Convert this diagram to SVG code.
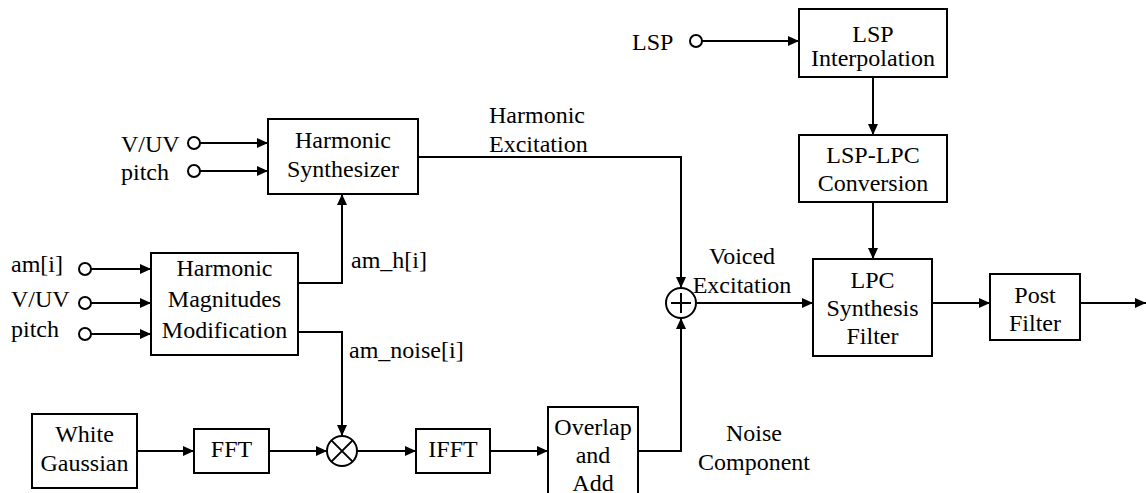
<svg xmlns="http://www.w3.org/2000/svg" width="1146" height="493" viewBox="0 0 1146 493">
<defs>
<marker id="arr" markerUnits="userSpaceOnUse" markerWidth="12" markerHeight="10" refX="11" refY="5" orient="auto">
<path d="M0,0 L11,5 L0,10 Z" fill="#000"/>
</marker>
</defs>
<rect width="1146" height="493" fill="#fff"/>
<g id="connectors" fill="none" stroke="#000" stroke-width="2" marker-end="url(#arr)">
<path d="M200,143 H268"/>
<path d="M200,171 H268"/>
<path d="M91,269 H151"/>
<path d="M91,303 H151"/>
<path d="M91,334 H151"/>
<path d="M298,283 H342 V194"/>
<path d="M298,332 H342 V436"/>
<path d="M137,451 H194"/>
<path d="M269,451 H327"/>
<path d="M357,451 H416"/>
<path d="M490,451 H548"/>
<path d="M638,451 H681 V318"/>
<path d="M418,157 H681 V288"/>
<path d="M696,303 H813"/>
<path d="M932,303 H990"/>
<path d="M1080,303 H1146"/>
<path d="M702,41 H799"/>
<path d="M873,77 V135"/>
<path d="M873,202 V259"/>
</g>
<g id="inputs">
<g fill="#fff" stroke="#000" stroke-width="2">
<circle cx="194" cy="143" r="6"/><circle cx="194" cy="171" r="6"/>
<circle cx="85" cy="269" r="6"/><circle cx="85" cy="303" r="6"/><circle cx="85" cy="334" r="6"/>
<circle cx="696" cy="41" r="6"/>
</g>
<text font-family="Liberation Serif" font-size="24" x="121" y="152">V/UV</text>
<text font-family="Liberation Serif" font-size="24" x="121" y="180">pitch</text>
<text font-family="Liberation Serif" font-size="24" x="11" y="272">am[i]</text>
<text font-family="Liberation Serif" font-size="24" x="11" y="307">V/UV</text>
<text font-family="Liberation Serif" font-size="24" x="11" y="337">pitch</text>
<text font-family="Liberation Serif" font-size="24" x="632" y="50">LSP</text>
</g>
<g id="harmonic-synth"><rect x="268" y="119" width="150" height="75" fill="#fff" stroke="#000" stroke-width="2"/>
<text font-family="Liberation Serif" font-size="24" text-anchor="middle" x="343" y="148">Harmonic</text><text font-family="Liberation Serif" font-size="24" text-anchor="middle" x="343" y="177">Synthesizer</text></g>
<g id="hmm"><rect x="151" y="253" width="147" height="102" fill="#fff" stroke="#000" stroke-width="2"/>
<text font-family="Liberation Serif" font-size="24" text-anchor="middle" x="224.5" y="276">Harmonic</text><text font-family="Liberation Serif" font-size="24" text-anchor="middle" x="224.5" y="307">Magnitudes</text><text font-family="Liberation Serif" font-size="24" text-anchor="middle" x="224.5" y="338">Modification</text></g>
<g id="white-gaussian"><rect x="32" y="414" width="105" height="74" fill="#fff" stroke="#000" stroke-width="2"/>
<text font-family="Liberation Serif" font-size="24" text-anchor="middle" x="84.5" y="442">White</text><text font-family="Liberation Serif" font-size="24" text-anchor="middle" x="84.5" y="471">Gaussian</text></g>
<g id="fft"><rect x="194" y="429" width="75" height="44" fill="#fff" stroke="#000" stroke-width="2"/>
<text font-family="Liberation Serif" font-size="24" text-anchor="middle" x="231.5" y="457">FFT</text></g>
<g id="multiplier" fill="#fff" stroke="#000" stroke-width="2"><circle cx="342" cy="451" r="15"/>
<path d="M331.4,440.4 L352.6,461.6 M352.6,440.4 L331.4,461.6"/></g>
<g id="ifft"><rect x="416" y="429" width="74" height="44" fill="#fff" stroke="#000" stroke-width="2"/>
<text font-family="Liberation Serif" font-size="24" text-anchor="middle" x="453" y="457">IFFT</text></g>
<g id="overlap-add"><rect x="548" y="407" width="90" height="100" fill="#fff" stroke="#000" stroke-width="2"/>
<text font-family="Liberation Serif" font-size="24" text-anchor="middle" x="593" y="435">Overlap</text><text font-family="Liberation Serif" font-size="24" text-anchor="middle" x="593" y="463">and</text><text font-family="Liberation Serif" font-size="24" text-anchor="middle" x="593" y="491">Add</text></g>
<g id="adder" fill="#fff" stroke="#000" stroke-width="2"><circle cx="681" cy="303" r="15"/>
<path d="M671,303 H691 M681,293 V313"/></g>
<g id="lsp-interp"><rect x="799" y="9" width="148" height="68" fill="#fff" stroke="#000" stroke-width="2"/>
<text font-family="Liberation Serif" font-size="24" text-anchor="middle" x="873" y="42">LSP</text><text font-family="Liberation Serif" font-size="24" text-anchor="middle" x="873" y="66">Interpolation</text></g>
<g id="lsp-lpc"><rect x="799" y="135" width="148" height="67" fill="#fff" stroke="#000" stroke-width="2"/>
<text font-family="Liberation Serif" font-size="24" text-anchor="middle" x="873" y="163">LSP-LPC</text><text font-family="Liberation Serif" font-size="24" text-anchor="middle" x="873" y="191">Conversion</text></g>
<g id="lpc-synth"><rect x="813" y="259" width="119" height="97" fill="#fff" stroke="#000" stroke-width="2"/>
<text font-family="Liberation Serif" font-size="24" text-anchor="middle" x="872.5" y="288">LPC</text><text font-family="Liberation Serif" font-size="24" text-anchor="middle" x="872.5" y="316">Synthesis</text><text font-family="Liberation Serif" font-size="24" text-anchor="middle" x="872.5" y="344">Filter</text></g>
<g id="post-filter"><rect x="990" y="274" width="90" height="66" fill="#fff" stroke="#000" stroke-width="2"/>
<text font-family="Liberation Serif" font-size="24" text-anchor="middle" x="1035" y="303">Post</text><text font-family="Liberation Serif" font-size="24" text-anchor="middle" x="1035" y="331">Filter</text></g>
<g id="labels">
<text font-family="Liberation Serif" font-size="24" x="351" y="268">am_h[i]</text>
<text font-family="Liberation Serif" font-size="24" x="349" y="358">am_noise[i]</text>
<text font-family="Liberation Serif" font-size="24" x="489" y="123">Harmonic</text><text font-family="Liberation Serif" font-size="24" x="489" y="152">Excitation</text>
<text font-family="Liberation Serif" font-size="24" text-anchor="middle" x="742" y="264">Voiced</text><text font-family="Liberation Serif" font-size="24" text-anchor="middle" x="742" y="293">Excitation</text>
<text font-family="Liberation Serif" font-size="24" text-anchor="middle" x="754" y="441">Noise</text><text font-family="Liberation Serif" font-size="24" text-anchor="middle" x="754" y="470">Component</text>
</g>
</svg>
